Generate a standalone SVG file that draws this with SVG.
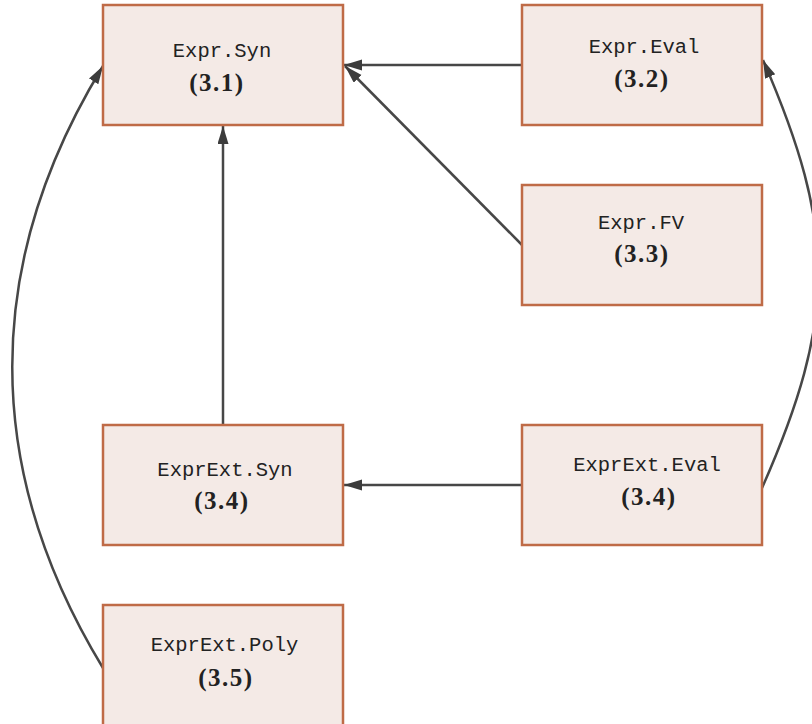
<svg xmlns="http://www.w3.org/2000/svg" width="812" height="724" viewBox="0 0 812 724">
<style>
.box{fill:#f4eae6;stroke:#bf6b47;stroke-width:2.5}
.mono{font-family:"Liberation Mono","DejaVu Sans Mono",monospace;font-size:20.5px;fill:#222;text-anchor:middle}
.num{font-family:"Liberation Serif","DejaVu Serif",serif;font-size:25px;font-weight:bold;fill:#222;text-anchor:middle;letter-spacing:1.5px}
.edge{fill:none;stroke:#474747;stroke-width:2.5}
</style>
<defs>
<marker id="arr" markerUnits="userSpaceOnUse" markerWidth="20" markerHeight="12" refX="18" refY="5.5" orient="auto">
<path d="M0,0 L18,5.5 L0,11 z" fill="#3c3c3c"/>
</marker>
</defs>
<rect width="812" height="724" fill="#ffffff"/>
<g id="connectors">
<path class="edge" d="M522,65 L344,65" marker-end="url(#arr)"/>
<path class="edge" d="M522,245 L345,66" marker-end="url(#arr)"/>
<path class="edge" d="M223,425 L223,126" marker-end="url(#arr)"/>
<path class="edge" d="M522,485 L344,485" marker-end="url(#arr)"/>
<path class="edge" d="M762,488 C837,318 837,230 763,60" marker-end="url(#arr)"/>
<path class="edge" d="M103,668 C-18,469 -18,264 103,66" marker-end="url(#arr)"/>
</g>
<g id="expr-syn">
<rect class="box" x="103" y="5" width="240" height="120"/>
<text class="mono" x="222" y="57">Expr.Syn</text>
<text class="num" x="217" y="91">(3.1)</text>
</g>
<g id="expr-eval">
<rect class="box" x="522" y="5" width="240" height="120"/>
<text class="mono" x="644" y="53">Expr.Eval</text>
<text class="num" x="642" y="87">(3.2)</text>
</g>
<g id="expr-fv">
<rect class="box" x="522" y="185" width="240" height="120"/>
<text class="mono" x="641" y="229">Expr.FV</text>
<text class="num" x="642" y="262">(3.3)</text>
</g>
<g id="exprext-syn">
<rect class="box" x="103" y="425" width="240" height="120"/>
<text class="mono" x="225" y="476">ExprExt.Syn</text>
<text class="num" x="222" y="509">(3.4)</text>
</g>
<g id="exprext-eval">
<rect class="box" x="522" y="425" width="240" height="120"/>
<text class="mono" x="647" y="471">ExprExt.Eval</text>
<text class="num" x="649" y="505">(3.4)</text>
</g>
<g id="exprext-poly">
<rect class="box" x="103" y="605" width="240" height="122"/>
<text class="mono" x="224.5" y="651">ExprExt.Poly</text>
<text class="num" x="226" y="686">(3.5)</text>
</g>
</svg>
